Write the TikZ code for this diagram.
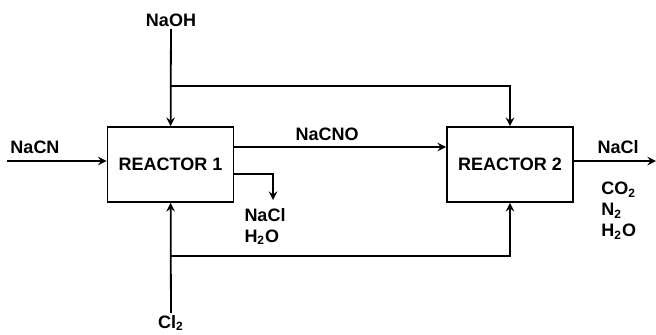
\documentclass[tikz,border=0pt]{standalone}
\usepackage{fontspec}
\setmainfont{Liberation Sans}
\usepackage{tikz}
\usetikzlibrary{arrows,positioning,calc}

\begin{document}
\begin{tikzpicture}[
    x=0.5pt, y=-0.5pt,
    every node/.style={font=\fontsize{9}{10.5}\selectfont\bfseries, inner sep=1pt},
    reactor/.style={rectangle, draw, line width=0.9pt, minimum width=63pt, minimum height=37.5pt},
    arrow/.style={->, >=stealth, line width=0.9pt},
    line/.style={line width=0.9pt}
]
\useasboundingbox (0,0) rectangle (656,334);

% Reactors
\node[reactor] (r1) at (170.5,164.5) {REACTOR 1};
\node[reactor] (r2) at (510,164.5) {REACTOR 2};

% Feeds
\node (naoh) at (171,20) {NaOH};
\node (cl2) at (171,323) {Cl\textsubscript{2}};
\coordinate (feed) at (7,161);
\coordinate (split1) at (171,86);
\coordinate (split2) at (171,256);
\coordinate (out) at (656,161);
\coordinate (mid) at (300,147);
\coordinate (drain) at (273,200);

\draw[arrow] (naoh) -- (r1);
\draw[arrow] (split1) -| (r2);
\draw[arrow] (cl2) -- (r1);
\draw[arrow] (split2) -| (r2);
\draw[arrow] (feed) -- (feed -| r1.west);
\draw[arrow] (r1.east |- mid) -- (r2.west |- mid);
\draw[arrow] (r1.east |- 0,174) -| (drain);
\draw[arrow] (r2.east |- out) -- (out);

% Stream labels
\node (nacn) at (35,147) {NaCN};
\node (nacno) at (327,134) {NaCNO};
\node[align=left] (waste1) at (265,226.5) {NaCl\\H\textsubscript{2}O};
\node (nacl) at (618,147) {NaCl};
\node[align=left, anchor=north west] (gases) at (599,180) {CO\textsubscript{2}\\N\textsubscript{2}\\H\textsubscript{2}O};

\end{tikzpicture}
\end{document}
